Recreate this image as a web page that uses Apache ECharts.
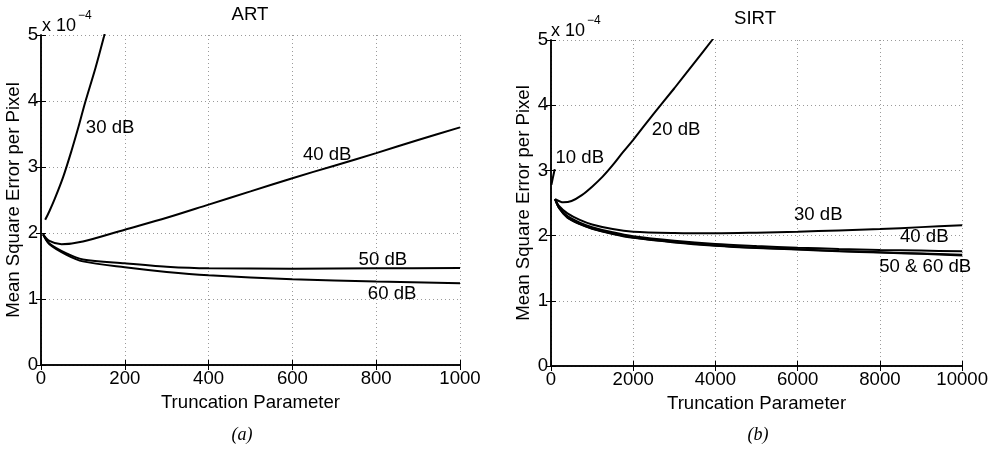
<!DOCTYPE html>
<html>
<head>
<meta charset="utf-8">
<script src="https://cdn.jsdelivr.net/npm/echarts@6/dist/echarts.min.js"></script>
<style>
html,body{margin:0;padding:0;background:#fff;}
#chart{width:991px;height:449px;}
</style>
</head>
<body>
<div id="chart"></div>
<script>
// Mean square error per pixel (units of 1e-4) versus truncation parameter.

// ART panel
const artXTicks = [0, 200, 400, 600, 800, 1000];
const art30 = [[10,2.2],[20,2.33],[33,2.52],[53,2.85],[73,3.25],[90,3.62],[105,3.97],[130,4.5],[150,4.97],[160,5.22]];
const art40 = [[5,1.98],[20,1.88],[49,1.83],[100,1.87],[200,2.05],[300,2.23],[400,2.43],[500,2.63],[600,2.83],[700,3.02],[800,3.21],[900,3.41],[1000,3.6]];
const art50 = [[5,1.98],[20,1.84],[61,1.69],[100,1.6],[200,1.54],[300,1.49],[400,1.465],[600,1.46],[800,1.465],[1000,1.47]];
const art60 = [[5,1.98],[20,1.83],[61,1.67],[100,1.57],[200,1.48],[300,1.41],[400,1.36],[600,1.3],[800,1.265],[1000,1.24]];
const artLabels = [[165,3.59,'30 dB'],[683,3.18,'40 dB'],[816,1.59,'50 dB'],[838,1.08,'60 dB']];

// SIRT panel
const sirtXTicks = [0, 2000, 4000, 6000, 8000, 10000];
const sirt10 = [[10,2.78],[30,2.84],[60,2.93],[90,3.02]];
const sirt20 = [[100,2.56],[300,2.51],[500,2.53],[750,2.62],[1000,2.75],[1250,2.9],[1500,3.08],[1750,3.28],[2000,3.47],[2500,3.87],[3000,4.26],[3500,4.66],[3920,5.0],[4100,5.15]];
const sirt30 = [[100,2.56],[200,2.45],[400,2.34],[700,2.24],[1000,2.17],[1500,2.1],[2000,2.06],[3000,2.04],[4000,2.035],[5000,2.045],[6000,2.06],[7000,2.08],[8000,2.1],[9000,2.13],[10000,2.16]];
const sirt40 = [[100,2.56],[200,2.43],[400,2.3],[700,2.2],[1000,2.13],[1500,2.05],[2000,1.99],[3000,1.92],[4000,1.87],[5000,1.84],[6000,1.815],[7000,1.795],[8000,1.78],[9000,1.77],[10000,1.76]];
const sirt50 = [[100,2.56],[200,2.42],[400,2.28],[700,2.18],[1000,2.11],[1500,2.03],[2000,1.97],[3000,1.9],[4000,1.85],[5000,1.815],[6000,1.79],[7000,1.765],[8000,1.745],[9000,1.725],[10000,1.705]];
const sirt60 = [[100,2.56],[200,2.42],[400,2.275],[700,2.175],[1000,2.105],[1500,2.025],[2000,1.965],[3000,1.895],[4000,1.845],[5000,1.81],[6000,1.785],[7000,1.76],[8000,1.74],[9000,1.72],[10000,1.695]];
const sirtLabels = [[700,3.19,'10 dB'],[3043,3.62,'20 dB'],[6500,2.32,'30 dB'],[9080,1.98,'40 dB'],[9100,1.52,'50 & 60 dB']];

const FONT = '"Liberation Sans", Arial, Helvetica, sans-serif';
const FS = 18.6;

const chart = echarts.init(document.getElementById('chart'), null, {renderer: 'canvas'});

const tickStyle = {show: true, inside: true, length: 5, lineStyle: {color: '#000', width: 1}};
const frameLine = {show: true, lineStyle: {color: '#000', width: 1.5}};
const gridDots = {show: true, lineStyle: {color: '#9a9a9a', width: 1, type: [1, 3]}};

function bottomX(gridIndex, ticks) {
  return {
    type: 'value', gridIndex, position: 'bottom',
    min: ticks[0], max: ticks[ticks.length - 1], interval: ticks[1] - ticks[0],
    name: 'Truncation Parameter', nameLocation: 'middle', nameGap: 19,
    nameTextStyle: {fontFamily: FONT, fontSize: FS, color: '#000'},
    axisLine: frameLine, axisTick: tickStyle,
    axisLabel: {fontFamily: FONT, fontSize: FS, color: '#000', margin: 4, formatter: v => String(v)},
    splitLine: gridDots
  };
}
function topX(gridIndex, ticks) {
  return {
    type: 'value', gridIndex, position: 'top',
    min: ticks[0], max: ticks[ticks.length - 1], interval: ticks[1] - ticks[0],
    axisLine: frameLine, axisTick: tickStyle,
    axisLabel: {show: false}, splitLine: {show: false}
  };
}
function leftY(gridIndex) {
  return {
    type: 'value', gridIndex, position: 'left',
    min: 0, max: 5, interval: 1,
    name: 'Mean Square Error per Pixel', nameLocation: 'middle', nameGap: 11,
    nameTextStyle: {fontFamily: FONT, fontSize: FS, color: '#000'},
    axisLine: frameLine, axisTick: tickStyle,
    axisLabel: {fontFamily: FONT, fontSize: FS, color: '#000', margin: 3, formatter: v => String(v)},
    splitLine: gridDots
  };
}
function rightY(gridIndex) {
  return {
    type: 'value', gridIndex, position: 'right',
    min: 0, max: 5, interval: 1,
    axisLine: frameLine, axisTick: tickStyle,
    axisLabel: {show: false}, splitLine: {show: false}
  };
}

function curve(data, xi, yi) {
  return {
    type: 'line', data, xAxisIndex: xi, yAxisIndex: yi,
    showSymbol: false, symbol: 'none', smooth: 0.3,
    clip: true, silent: true,
    lineStyle: {color: '#000', width: 2}
  };
}
function labels(data, xi, yi) {
  return {
    type: 'scatter', data, xAxisIndex: xi, yAxisIndex: yi,
    symbolSize: 0, silent: true, clip: false,
    itemStyle: {opacity: 1},
    label: {
      show: true, position: 'inside', formatter: p => p.data[2],
      fontFamily: FONT, fontSize: FS, color: '#000', opacity: 1
    }
  };
}

const serifItalic = 'italic 18px "Liberation Serif", "Times New Roman", serif';

chart.setOption({
  animation: false,
  backgroundColor: '#fff',
  grid: [
    {left: 41, top: 35, width: 419, height: 330, show: false},
    {left: 551, top: 40, width: 414, height: 326, show: false}
  ],
  xAxis: [bottomX(0, artXTicks), bottomX(1, sirtXTicks), topX(0, artXTicks), topX(1, sirtXTicks)],
  yAxis: [leftY(0), leftY(1), rightY(0), rightY(1)],
  series: [
    curve(art30, 0, 0), curve(art40, 0, 0), curve(art50, 0, 0), curve(art60, 0, 0),
    curve(sirt10, 1, 1), curve(sirt20, 1, 1), curve(sirt30, 1, 1), curve(sirt40, 1, 1),
    curve(sirt50, 1, 1), curve(sirt60, 1, 1),
    labels(artLabels, 0, 0), labels(sirtLabels, 1, 1)
  ],
  graphic: [
    {type: 'text', x: 250, y: 15, style: {text: 'ART', font: FS + 'px ' + FONT, fill: '#000', textAlign: 'center', textVerticalAlign: 'middle'}},
    {type: 'text', x: 755, y: 19, style: {text: 'SIRT', font: FS + 'px ' + FONT, fill: '#000', textAlign: 'center', textVerticalAlign: 'middle'}},
    {type: 'text', x: 42, y: 17, style: {text: 'x 10', font: '18px ' + FONT, fill: '#000'}},
    {type: 'text', x: 78, y: 10, style: {text: '\u22124', font: '12px ' + FONT, fill: '#000'}},
    {type: 'text', x: 551, y: 22, style: {text: 'x 10', font: '18px ' + FONT, fill: '#000'}},
    {type: 'text', x: 587, y: 15, style: {text: '\u22124', font: '12px ' + FONT, fill: '#000'}},
    {type: 'text', x: 242, y: 435, style: {text: '(a)', font: serifItalic, fill: '#000', textAlign: 'center', textVerticalAlign: 'middle'}},
    {type: 'text', x: 758, y: 435, style: {text: '(b)', font: serifItalic, fill: '#000', textAlign: 'center', textVerticalAlign: 'middle'}}
  ]
});
</script>
</body>
</html>
